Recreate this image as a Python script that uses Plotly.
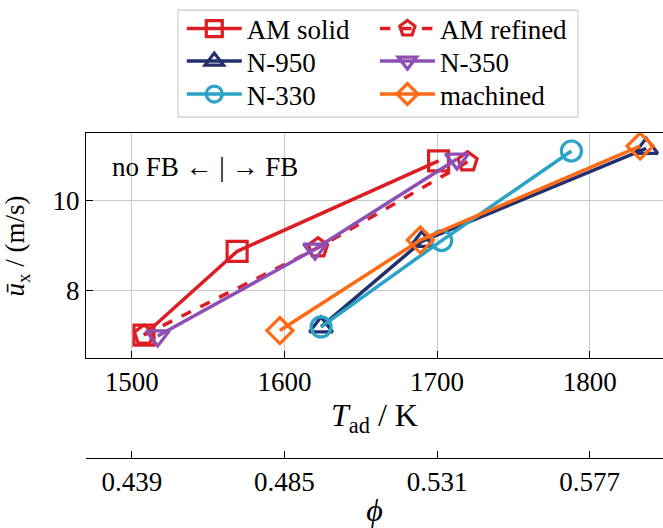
import plotly.graph_objects as go

# ---- data ----
t_am_solid = [1508, 1569, 1701]
u_am_solid = [7.02, 8.88, 10.89]

t_am_refined = [1508, 1622, 1720]
u_am_refined = [7.02, 8.96, 10.87]

t_n950 = [1624, 1690, 1837]
u_n950 = [7.20, 9.10, 11.17]

t_n350 = [1517, 1620, 1713]
u_n350 = [7.00, 8.93, 10.93]

t_n330 = [1624, 1703, 1788]
u_n330 = [7.20, 9.12, 11.11]

t_machined = [1597, 1689, 1833]
u_machined = [7.12, 9.13, 11.22]

t_ticks = [1500, 1600, 1700, 1800]
phi_ticklabels = ["0.439", "0.485", "0.531", "0.577"]
u_ticks = [8, 10]

FONT = "Liberation Serif"
FS = 27

# (name, x, y, colour, marker, dash)
series = [
    ("AM solid", t_am_solid, u_am_solid, "#dc1e24", "square-open", "solid"),
    ("AM refined", t_am_refined, u_am_refined, "#dc1e24", "pentagon-open", "dash"),
    ("N-950", t_n950, u_n950, "#22306e", "triangle-up-open", "solid"),
    ("N-350", t_n350, u_n350, "#8e4fb5", "triangle-down-open", "solid"),
    ("N-330", t_n330, u_n330, "#2ba3c6", "circle-open", "solid"),
    ("machined", t_machined, u_machined, "#ff6a14", "diamond-open", "solid"),
]

# legend grid: 2 columns x 3 rows (paper coordinates)
leg_cols = [0.166, 0.5007]
leg_rows = [1.32, 1.22, 1.1185]

fig = go.Figure()
legends = {}
for i, (name, xs, ys, col, sym, dash) in enumerate(series):
    key = "legend" if i == 0 else f"legend{i + 1}"
    fig.add_trace(go.Scatter(
        x=xs, y=ys, name=name, mode="lines+markers", legend=key,
        line=dict(color=col, width=3.5, dash=dash),
        marker=dict(symbol=sym, size=20, color=col, line=dict(width=3.2, color=col)),
    ))
    legends[key] = dict(
        orientation="v", x=leg_cols[i % 2], y=leg_rows[i // 2],
        xanchor="left", yanchor="middle",
        bgcolor="rgba(0,0,0,0)", borderwidth=0,
        font=dict(family=FONT, size=27), itemwidth=55,
    )

# empty trace to carry the secondary (phi) axis
fig.add_trace(go.Scatter(x=[], y=[], xaxis="x2", showlegend=False, hoverinfo="skip"))

XR = [1470, 1848]
YR = [6.51, 11.51]

fig.update_layout(
    width=663, height=528,
    margin=dict(l=86, r=0, t=133, b=70),
    paper_bgcolor="white", plot_bgcolor="white",
    font=dict(family=FONT, size=FS, color="black"),
    showlegend=True,
    xaxis=dict(
        range=XR, tickvals=t_ticks, ticks="inside", ticklen=7, tickcolor="black",
        showline=True, linecolor="black", linewidth=1, mirror=True,
        showgrid=True, gridcolor="#c8c8c8", gridwidth=1, zeroline=False,
        title=dict(text="<i>T</i><sub>ad</sub> / K", standoff=2),
        domain=[0, 1], automargin=False,
    ),
    xaxis2=dict(
        range=XR, tickvals=t_ticks, ticktext=phi_ticklabels, overlaying="x",
        anchor="free", position=0, side="bottom",
        ticks="inside", ticklen=7, tickcolor="black",
        showline=True, linecolor="black", linewidth=1, showgrid=False, zeroline=False,
        title=dict(text="<i>ϕ</i>", standoff=13), automargin=False,
    ),
    yaxis=dict(
        range=YR, tickvals=u_ticks, ticks="inside", ticklen=7, tickcolor="black",
        showline=True, linecolor="black", linewidth=1, mirror=False,
        showgrid=True, gridcolor="#c8c8c8", gridwidth=1, zeroline=False,
        domain=[0.3077, 1], automargin=False,
    ),
    shapes=[dict(
        type="rect", xref="paper", yref="paper",
        x0=0.1594, x1=0.8527, y0=1.049, y1=1.378,
        line=dict(color="#cccccc", width=1.2), fillcolor="rgba(0,0,0,0)", layer="below",
    )],
    annotations=[
        dict(
            x=1486, y=10.76, xref="x", yref="y", xanchor="left", yanchor="middle",
            text="no FB ← | → FB", showarrow=False, font=dict(family=FONT, size=FS),
        ),
        dict(
            x=-0.1196, y=0.6538, xref="paper", yref="paper",
            xanchor="center", yanchor="middle", textangle=-90,
            text="<i>ū</i><sub>x</sub> / (m/s)", showarrow=False,
            font=dict(family=FONT, size=FS),
        ),
    ],
)
fig.update_layout(**legends)

fig.write_html(
    "out.html",
    config={"displayModeBar": False},
    post_script="document.body.style.margin='0';document.body.style.overflow='hidden';",
)
